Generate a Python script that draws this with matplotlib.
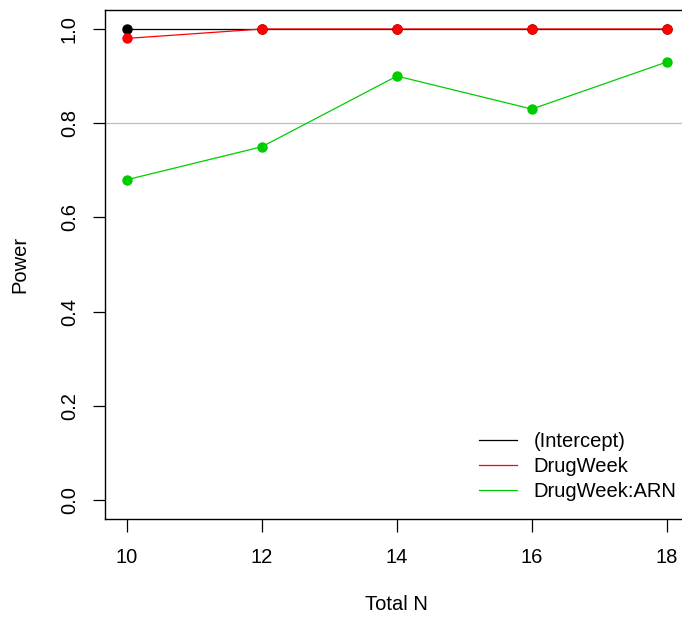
import matplotlib
matplotlib.use("Agg")
import matplotlib.pyplot as plt

plt.rcParams['font.family'] = ['Liberation Sans', 'DejaVu Sans']

total_n = [10, 12, 14, 16, 18]
intercept = [1.00, 1.00, 1.00, 1.00, 1.00]
drug_week = [0.98, 1.00, 1.00, 1.00, 1.00]
drug_week_arn = [0.68, 0.75, 0.90, 0.83, 0.93]
y_ticks = [0.0, 0.2, 0.4, 0.6, 0.8, 1.0]

fs = 14.5

fig = plt.figure(figsize=(6.82, 6.19), dpi=100)
ax = fig.add_axes([0.1545, 0.1619, 0.855, 0.8217])

ax.axhline(0.8, color='#bebebe', lw=0.9, zorder=1)

series = [("(Intercept)", intercept, 'black'),
          ("DrugWeek", drug_week, '#ff0000'),
          ("DrugWeek:ARN", drug_week_arn, '#00cd00')]
for name, vals, col in series:
    ax.plot(total_n, vals, color=col, lw=0.9, zorder=2, label=name)
    ax.plot(total_n, vals, 'o', color=col, ms=7.5, mec='none', zorder=3)

ax.set_xlim(9.68, 18.32)
ax.set_ylim(-0.04, 1.04)
ax.set_xticks(total_n)
ax.set_yticks(y_ticks)
ax.set_yticklabels([f"{v:.1f}" for v in y_ticks], rotation=90, va='center')

for s in ax.spines.values():
    s.set_linewidth(1.0)

ax.tick_params(length=9, width=0.9, labelsize=fs, pad=12, colors='black')
ax.tick_params(axis='y', pad=10)

ax.set_xlabel("Total N", fontsize=fs, labelpad=20)
ax.set_ylabel("Power", fontsize=fs, labelpad=22)

ax.legend(loc='upper left', bbox_to_anchor=(0.691, 0.315), bbox_transform=fig.transFigure,
          frameon=False, fontsize=fs, handlelength=1.85, handletextpad=0.85,
          labelspacing=0.3, borderaxespad=0)

fig.savefig("out.png", dpi=100)
